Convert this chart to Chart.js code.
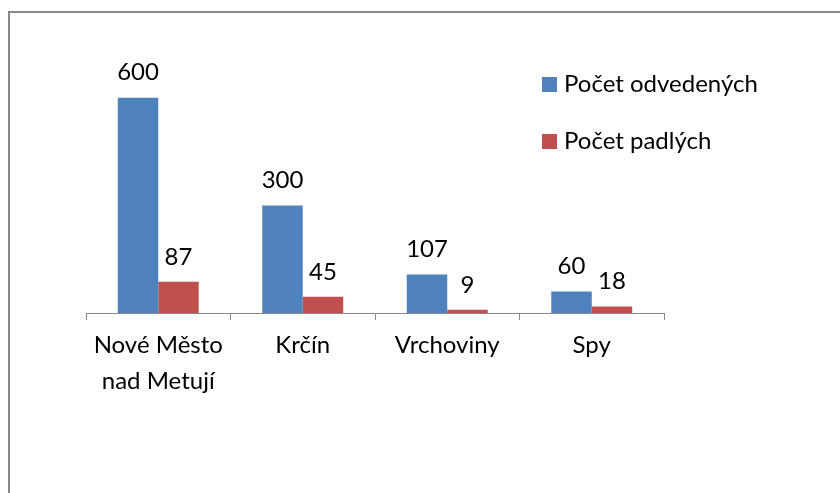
<!DOCTYPE html>
<html>
<head>
<meta charset="utf-8">
<script src="https://cdn.jsdelivr.net/npm/chart.js@4"></script>
<style>
  html, body { margin: 0; padding: 0; background: #fff; }
  #wrap { width: 840px; height: 493px; }
</style>
</head>
<body>
<div id="wrap"><canvas id="c"></canvas></div>
<script>
const categories = [["Nové Město", "nad Metují"], "Krčín", "Vrchoviny", "Spy"];
const odvedenych = [600, 300, 107, 60];
const padlych = [87, 45, 9, 18];
const seriesNames = ["Počet odvedených", "Počet padlých"];
const seriesColors = ["#4F81BD", "#C0504D"];

const FONT = "Lato, 'Open Sans', sans-serif";

// outer frame (left + top only, like the cropped original)
const framePlugin = {
  id: "frame",
  beforeDraw(chart) {
    const ctx = chart.ctx;
    ctx.save();
    ctx.strokeStyle = "#888888";
    ctx.lineWidth = 2;
    ctx.beginPath();
    ctx.moveTo(9, 493);
    ctx.lineTo(9, 12);
    ctx.lineTo(840, 12);
    ctx.stroke();
    ctx.restore();
  }
};

// value labels above each bar
const valueLabels = {
  id: "valueLabels",
  afterDatasetsDraw(chart) {
    const ctx = chart.ctx;
    ctx.save();
    ctx.fillStyle = "#000";
    ctx.font = "24px " + FONT;
    ctx.textAlign = "center";
    ctx.textBaseline = "middle";
    chart.data.datasets.forEach((ds, i) => {
      chart.getDatasetMeta(i).data.forEach((bar, j) => {
        ctx.fillText(String(ds.data[j]), bar.x, bar.y - 25);
      });
    });
    ctx.restore();
  }
};

// legend on the right
const sideLegend = {
  id: "sideLegend",
  afterDraw(chart) {
    const ctx = chart.ctx;
    ctx.save();
    ctx.font = "24px " + FONT;
    ctx.textBaseline = "middle";
    chart.data.datasets.forEach((ds, i) => {
      const y = 84 + i * 57;
      ctx.fillStyle = ds.backgroundColor;
      ctx.fillRect(542, y - 7, 15, 15);
      ctx.fillStyle = "#000";
      ctx.fillText(ds.label, 564, y);
    });
    ctx.restore();
  }
};

new Chart(document.getElementById("c"), {
  type: "bar",
  data: {
    labels: categories,
    datasets: [
      { label: seriesNames[0], data: odvedenych, backgroundColor: seriesColors[0] },
      { label: seriesNames[1], data: padlych, backgroundColor: seriesColors[1] }
    ]
  },
  options: {
    responsive: true,
    maintainAspectRatio: false,
    animation: false,
    layout: { padding: { left: 86, right: 176, top: 26, bottom: 0 } },
    plugins: { legend: { display: false }, tooltip: { enabled: false } },
    datasets: { bar: { categoryPercentage: 0.56, barPercentage: 1 } },
    scales: {
      x: {
        grid: { display: true, drawOnChartArea: false, drawTicks: true, tickLength: 7, color: "#888888", offset: true },
        border: { display: true, color: "#888888", width: 1 },
        ticks: { color: "#000", font: { family: FONT, size: 24, lineHeight: 1.5 }, padding: 7, maxRotation: 0 },
        afterFit(scale) { scale.height = 180; }
      },
      y: { display: false, min: 0, max: 800 }
    }
  },
  plugins: [framePlugin, valueLabels, sideLegend]
});
</script>
</body>
</html>
